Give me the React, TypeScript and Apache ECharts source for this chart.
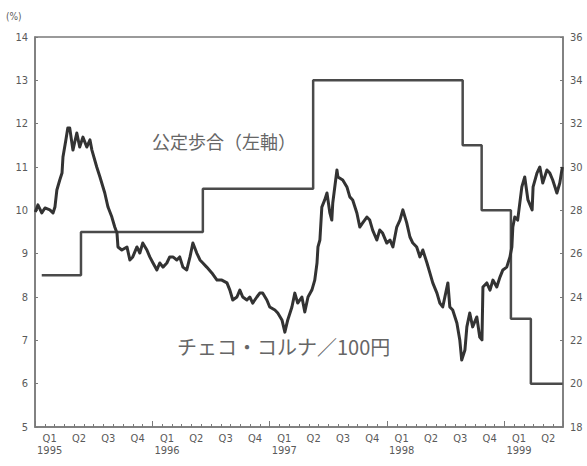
import React, { useEffect, useRef } from "react";
import * as echarts from "echarts";

// チェコ・コルナ／100円 (right axis)
const fxDates = [
  "1995-01-02","1995-01-10","1995-01-22","1995-02-01","1995-02-16","1995-02-26","1995-03-04","1995-03-10","1995-03-19","1995-03-26",
  "1995-03-29","1995-04-07","1995-04-13","1995-04-19","1995-04-29","1995-05-11","1995-05-20","1995-05-30","1995-06-11","1995-06-21",
  "1995-06-27","1995-07-12","1995-07-22","1995-08-06","1995-08-16","1995-08-28","1995-09-06","1995-09-13","1995-09-16","1995-09-28",
  "1995-10-14","1995-10-23","1995-11-01","1995-11-14","1995-11-23","1995-12-02","1995-12-15","1995-12-24","1996-01-03","1996-01-15",
  "1996-01-24","1996-02-03","1996-02-15","1996-02-24","1996-03-05","1996-03-17","1996-03-26","1996-04-05","1996-04-17","1996-04-27",
  "1996-05-06","1996-05-18","1996-05-28","1996-06-06","1996-06-18","1996-07-04","1996-07-20","1996-08-04","1996-08-20","1996-08-29",
  "1996-09-07","1996-09-20","1996-09-29","1996-10-08","1996-10-21","1996-10-30","1996-11-08","1996-11-21","1996-11-30","1996-12-09",
  "1996-12-22","1996-12-31","1997-01-16","1997-01-25","1997-02-07","1997-02-16","1997-02-25","1997-03-10","1997-03-19","1997-03-28",
  "1997-04-10","1997-04-19","1997-04-29","1997-05-11","1997-05-20","1997-05-27","1997-05-30","1997-06-05","1997-06-11","1997-06-20",
  "1997-06-27","1997-07-06","1997-07-12","1997-07-15","1997-07-28","1997-07-31","1997-08-15","1997-08-28","1997-09-06","1997-09-15",
  "1997-09-28","1997-10-07","1997-10-16","1997-10-29","1997-11-07","1997-11-16","1997-11-29","1997-12-08","1997-12-17","1997-12-30",
  "1998-01-09","1998-01-18","1998-01-30","1998-02-09","1998-02-18","1998-03-02","1998-03-12","1998-03-21","1998-04-02","1998-04-12",
  "1998-04-21","1998-05-04","1998-05-13","1998-05-22","1998-06-04","1998-06-13","1998-06-22","1998-07-08","1998-07-14","1998-07-23",
  "1998-08-05","1998-08-14","1998-08-20","1998-08-30","1998-09-05","1998-09-14","1998-09-23","1998-10-06","1998-10-15","1998-10-22",
  "1998-10-25","1998-11-06","1998-11-16","1998-11-25","1998-12-07","1998-12-17","1998-12-26","1999-01-07","1999-01-17","1999-01-23",
  "1999-01-26","1999-02-01","1999-02-10","1999-02-23","1999-03-04","1999-03-14","1999-03-27","1999-03-30","1999-04-11","1999-04-20",
  "1999-04-29","1999-05-12","1999-05-21","1999-05-30","1999-06-12","1999-06-21","1999-06-29"
];
const fxValues = [
  27.92,28.25,27.88,28.11,28.02,27.88,28.15,28.94,29.40,29.72,
  30.46,31.25,31.80,31.80,30.78,31.57,30.92,31.38,30.92,31.25,
  30.78,30.00,29.54,28.80,28.15,27.69,27.23,26.95,26.31,26.17,
  26.31,25.71,25.85,26.31,26.03,26.49,26.17,25.85,25.57,25.25,
  25.57,25.38,25.57,25.85,25.85,25.71,25.85,25.38,25.25,25.85,
  26.49,26.03,25.71,25.57,25.38,25.11,24.78,24.78,24.65,24.32,
  23.86,24.00,24.32,24.00,23.86,24.00,23.72,24.00,24.18,24.18,
  23.86,23.54,23.40,23.26,22.94,22.38,22.94,23.54,24.18,23.72,
  24.00,23.31,24.00,24.32,24.78,25.57,26.31,26.63,28.15,28.48,
  28.80,27.88,27.55,28.34,29.86,29.54,29.40,29.08,28.62,28.48,
  27.88,27.23,27.42,27.69,27.55,27.09,26.63,27.09,26.95,26.49,
  26.63,26.31,27.23,27.55,28.02,27.42,26.77,26.49,26.31,25.85,
  26.17,25.57,25.11,24.65,24.18,23.72,23.54,24.65,23.54,23.40,
  22.80,22.02,21.09,21.55,22.62,23.26,22.62,23.08,22.15,22.02,
  24.46,24.65,24.32,24.78,24.46,24.92,25.25,25.38,25.85,26.31,
  27.23,27.69,27.55,29.08,29.54,28.48,28.02,29.08,29.72,30.00,
  29.26,29.86,29.72,29.40,28.80,29.26,30.00
];

// 公定歩合 (left axis), value in effect from each date
const rateDates = ["1995-01-22","1995-05-24","1996-06-06","1997-05-15","1998-08-23","1998-10-21","1999-01-20","1999-03-23","1999-06-30"];
const rateValues = [8.5, 9.5, 10.5, 13.0, 11.5, 10.0, 7.5, 6.0, 6.0];

const quarterLabels = [
  "Q1\n1995","Q2","Q3","Q4",
  "Q1\n1996","Q2","Q3","Q4",
  "Q1\n1997","Q2","Q3","Q4",
  "Q1\n1998","Q2","Q3","Q4",
  "Q1\n1999","Q2"
];
const years = [1995, 1996, 1997, 1998, 1999];
const monthSlots: string[] = [];
years.forEach((y) => {
  for (let m = 1; m <= 12; m++) {
    if (y === 1999 && m > 6) break;
    monthSlots.push(`${y}-${String(m).padStart(2, "0")}`);
  }
});

const leftMin = 5, leftMax = 14, leftStep = 1;
const rightMin = 18, rightMax = 36, rightStep = 2;

const axisGrey = "#7a7a7a";
const textGrey = "#5a5a5a";
const lineDark = "#333";
const numFont = "'Liberation Sans Narrow', 'DejaVu Sans Condensed', 'Liberation Sans', sans-serif";
const cjkFont = "'Noto Sans CJK JP', sans-serif";

export default function App() {
  const ref = useRef<HTMLDivElement>(null);
  useEffect(() => {
    document.body.style.margin = "0";
    const chart = echarts.init(ref.current!, null, { renderer: "svg" });
    chart.setOption({
      animation: false,
      backgroundColor: "#fff",
      grid: { left: 35, right: 24, top: 37, bottom: 39, show: true, borderColor: axisGrey, borderWidth: 1.5 },
      xAxis: [
        {
          type: "time", min: "1995-01-01", max: "1999-07-01", position: "bottom",
          axisLabel: { show: false }, axisTick: { show: false }, splitLine: { show: false },
          axisLine: { show: true, lineStyle: { color: axisGrey, width: 1.5 } },
        },
        {
          type: "category", data: monthSlots, position: "bottom", boundaryGap: true,
          axisLine: { show: false }, axisLabel: { show: false }, splitLine: { show: false },
          axisTick: { show: true, inside: true, length: 3, interval: 0, lineStyle: { color: axisGrey } },
        },
        {
          type: "category", data: monthSlots, position: "bottom", boundaryGap: true,
          axisLine: { show: false }, axisLabel: { show: false }, splitLine: { show: false },
          axisTick: { show: true, inside: true, length: 6, interval: (i: number) => i % 12 === 0, lineStyle: { color: axisGrey } },
        },
        {
          type: "category", data: quarterLabels, position: "bottom", boundaryGap: true,
          axisLine: { show: false }, axisTick: { show: false }, splitLine: { show: false },
          axisLabel: { interval: 0, color: textGrey, fontSize: 11, lineHeight: 12, margin: 5, fontFamily: numFont },
        },
      ],
      yAxis: [
        {
          type: "value", min: leftMin, max: leftMax, interval: leftStep, position: "left",
          axisLine: { show: true, lineStyle: { color: axisGrey, width: 1.5 } },
          axisTick: { show: true, inside: true, length: 3, lineStyle: { color: axisGrey } },
          axisLabel: { color: textGrey, fontSize: 11, margin: 7, fontFamily: numFont },
          splitLine: { show: false },
        },
        {
          type: "value", min: rightMin, max: rightMax, interval: rightStep, position: "right",
          axisLine: { show: true, lineStyle: { color: axisGrey, width: 1.5 } },
          axisTick: { show: true, inside: true, length: 3, lineStyle: { color: axisGrey } },
          axisLabel: { color: textGrey, fontSize: 11, margin: 7, fontFamily: numFont },
          splitLine: { show: false },
        },
      ],
      series: [
        {
          type: "line", name: "公定歩合（左軸）", xAxisIndex: 0, yAxisIndex: 0, step: "end",
          data: rateDates.map((d, i) => [d, rateValues[i]]),
          showSymbol: false, lineStyle: { color: "#4a4a4a", width: 2.5 },
        },
        {
          type: "line", name: "チェコ・コルナ／100円", xAxisIndex: 0, yAxisIndex: 1,
          data: fxDates.map((d, i) => [d, fxValues[i]]),
          showSymbol: false, lineStyle: { color: lineDark, width: 3, join: "round" },
        },
      ],
      graphic: [
        { type: "text", left: 6, top: 11, style: { text: "(%)", fontSize: 10, fill: textGrey, fontFamily: numFont } },
        { type: "text", left: 152, top: 132, style: { text: "公定歩合（左軸）", fontSize: 18, fill: "#666", fontFamily: cjkFont } },
        { type: "text", left: 177, top: 336, style: { text: "チェコ・コルナ／100円", fontSize: 20, fill: "#666", fontFamily: cjkFont } },
      ],
    });
    return () => chart.dispose();
  }, []);
  return <div ref={ref} style={{ width: 587, height: 466 }} />;
}
